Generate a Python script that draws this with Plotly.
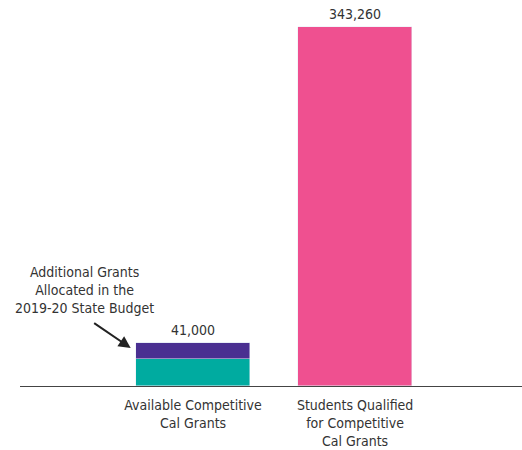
import plotly.graph_objects as go

categories = ["Available Competitive<br>Cal Grants", "Students Qualified<br>for Competitive<br>Cal Grants"]
cat_keys = ["available", "qualified"]
base_grants = [25750, 0]
additional_grants = [15250, 0]
qualified_students = [0, 343260]
totals = [41000, 343260]
total_labels = ["41,000", "343,260"]

FONT = "DejaVu Sans Condensed, Liberation Sans Narrow, sans-serif"
TXT = "#333333"

fig = go.Figure()
fig.add_bar(x=cat_keys, y=base_grants, marker_color="#00ABA0", width=0.70, hoverinfo="skip")
fig.add_bar(x=cat_keys, y=additional_grants, marker_color="#4A2F91", width=0.70, hoverinfo="skip")
fig.add_bar(x=cat_keys, y=qualified_students, marker_color="#EF5090", width=0.70, hoverinfo="skip")

for k, t, lab in zip(cat_keys, totals, total_labels):
    fig.add_annotation(x=k, y=t, text=lab, showarrow=False, yanchor="bottom", yshift=3,
                       font=dict(family=FONT, size=14, color=TXT))

fig.add_annotation(x=-0.667, y=91800, text="Additional Grants<br>Allocated in the<br>2019-20 State Budget",
                   showarrow=False, font=dict(family=FONT, size=14, color=TXT))
fig.add_annotation(x=-0.385, y=36300, text="", showarrow=True, ax=-38, ay=-26,
                   arrowhead=2, arrowsize=1.2, arrowwidth=2, arrowcolor="#222222")

fig.update_layout(
    barmode="stack",
    width=522, height=450,
    margin=dict(l=20, r=0, t=10, b=64),
    plot_bgcolor="white", paper_bgcolor="white",
    showlegend=False,
    bargap=0,
)
fig.update_xaxes(type="category", tickvals=cat_keys, ticktext=categories, range=[-1.068, 2.03],
                 showline=True, linecolor="#444444", linewidth=1, ticks="", showgrid=False,
                 automargin=False, ticklabelstandoff=6,
                 tickfont=dict(family=FONT, size=14, color=TXT))
fig.update_yaxes(range=[0, 359500], visible=False, showgrid=False, zeroline=False, automargin=False)

fig.write_html("out.html", config={"displayModeBar": False},
               post_script="document.body.style.margin='0';document.body.style.padding='0';")
